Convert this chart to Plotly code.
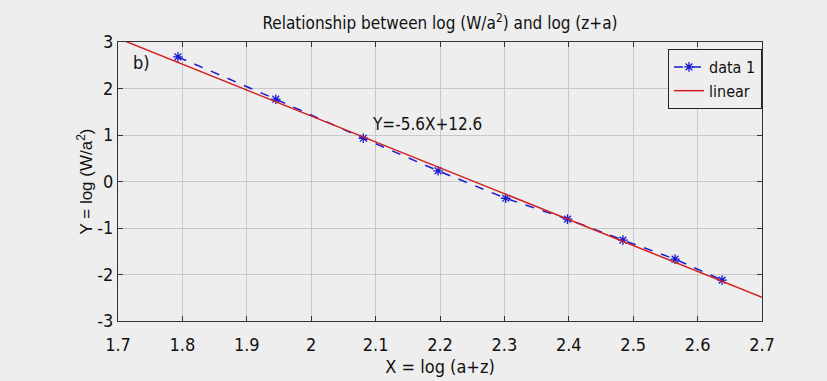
import plotly.graph_objects as go

# Data
x_data = [1.793, 1.945, 2.081, 2.197, 2.302, 2.398, 2.484, 2.565, 2.638]
y_data = [2.68, 1.77, 0.93, 0.23, -0.36, -0.81, -1.26, -1.67, -2.12]

# Linear fit line endpoints (Y = -5.6X + 12.6)
linear_x = [1.7, 2.7]
linear_y = [3.08, -2.49]

x_ticks = [1.7, 1.8, 1.9, 2.0, 2.1, 2.2, 2.3, 2.4, 2.5, 2.6, 2.7]
x_tick_labels = ["1.7", "1.8", "1.9", "2", "2.1", "2.2", "2.3", "2.4", "2.5", "2.6", "2.7"]
y_ticks = [-3, -2, -1, 0, 1, 2, 3]
y_tick_labels = ["-3", "-2", "-1", "0", "1", "2", "3"]

NARROW = "Liberation Sans Narrow, Arial Narrow, DejaVu Sans Condensed, sans-serif"
REG = "Liberation Sans, Arial, sans-serif"
BG = "#eeeeee"

fig = go.Figure()
fig.add_trace(go.Scatter(
    x=x_data, y=y_data, mode="lines+markers", name="data 1",
    line=dict(color="#1a1ad0", width=1.5, dash="dash"),
    marker=dict(symbol="asterisk-open", size=8, color="#1a1ad0",
                line=dict(color="#1a1ad0", width=1.3)),
))
fig.add_trace(go.Scatter(
    x=linear_x, y=linear_y, mode="lines", name="linear",
    line=dict(color="#d42020", width=1.5),
))

axis_common = dict(
    showline=True, linecolor="#333333", linewidth=1, mirror="ticks",
    ticks="inside", ticklen=5, tickcolor="#333333",
    showgrid=True, gridcolor="#c8c8c8", gridwidth=1,
    zeroline=False, automargin=False,
    tickfont=dict(family=NARROW, size=18, color="#111111"),
)

fig.update_xaxes(
    range=[1.7, 2.7], tickvals=x_ticks, ticktext=x_tick_labels,
    ticklabelstandoff=7,
    title=dict(text="X = log (a+z)", font=dict(family=NARROW, size=18, color="#111111"), standoff=6),
    **axis_common,
)
fig.update_yaxes(
    range=[-3, 3], tickvals=y_ticks, ticktext=y_tick_labels,
    title=dict(text="Y = log (W/a<sup>2</sup>)", font=dict(family=REG, size=17, color="#111111"), standoff=0),
    **axis_common,
)

fig.add_annotation(x=1.72, y=2.55, xref="x", yref="y", text="b)", showarrow=False,
                   xanchor="left", font=dict(family=NARROW, size=18, color="#111111"))
fig.add_annotation(x=2.18, y=1.24, xref="x", yref="y", text="Y=-5.6X+12.6", showarrow=False,
                   font=dict(family=NARROW, size=17, color="#111111"))

fig.update_layout(
    width=827, height=381,
    margin=dict(l=118, r=65, t=42, b=60),
    paper_bgcolor=BG, plot_bgcolor=BG,
    title=dict(text="Relationship between log (W/a<sup>2</sup>) and log (z+a)",
               x=0.532, xanchor="center", y=0.94, yanchor="middle",
               font=dict(family=NARROW, size=17, color="#111111")),
    legend=dict(x=1.0, xanchor="right", y=0.975, yanchor="top",
                bgcolor=BG, bordercolor="#222222", borderwidth=1,
                font=dict(family=NARROW, size=16, color="#111111"),
                itemwidth=30, tracegroupgap=2),
    showlegend=True,
)

fig.write_html("out.html")
